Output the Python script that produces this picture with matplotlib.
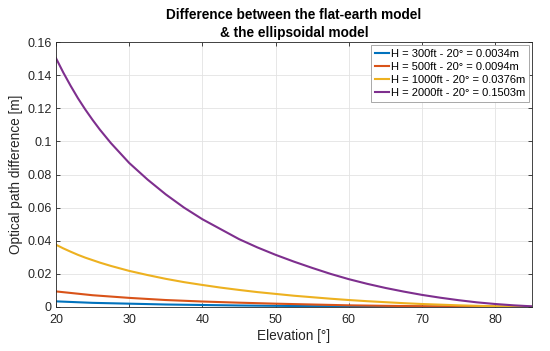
import matplotlib
matplotlib.use("Agg")
import matplotlib.pyplot as plt
from matplotlib.ticker import FuncFormatter

plt.rcParams['font.family'] = ['Liberation Sans', 'DejaVu Sans']

# Elevation angles [deg]
elev_fine = [20, 21, 22, 23, 24, 25, 26, 27.5, 30, 32.5, 35, 37.5, 40, 42.5, 45, 47.5, 50, 52.5,
             55, 57.5, 60, 62.5, 65, 67.5, 70, 72.5, 75, 77.5, 80, 82.5, 85]
elev_coarse = [20, 25, 30, 35, 40, 45, 50, 55, 60, 65, 70, 75, 80, 85]

# Optical path difference [m]
h300 = [0.0034, 0.0025, 0.0020, 0.0015, 0.0012, 0.0009, 0.0007, 0.0005, 0.0004,
        0.00026, 0.00016, 0.00009, 0.00004, 0.00001]
h500 = [0.0094, 0.0071, 0.0055, 0.0042, 0.0033, 0.0026, 0.0020, 0.0015, 0.0010,
        0.0007, 0.00046, 0.00026, 0.00011, 0.00003]
h1000 = [0.0376, 0.0354, 0.0334, 0.0315, 0.0298, 0.0283, 0.0268, 0.0248, 0.0218,
         0.0193, 0.0170, 0.0150, 0.0133, 0.0117, 0.0103, 0.0090, 0.0079, 0.0068,
         0.0059, 0.0050, 0.0042, 0.0035, 0.0029, 0.0023, 0.0018, 0.0014, 0.0010,
         0.0007, 0.00045, 0.00025, 0.0001]
h2000 = [0.1503, 0.1416, 0.1336, 0.1261, 0.1193, 0.1130, 0.1071, 0.0990, 0.0870,
         0.0770, 0.0680, 0.0600, 0.0530, 0.0470, 0.0410, 0.0360, 0.0315, 0.0274,
         0.0236, 0.0200, 0.0168, 0.0140, 0.0115, 0.0093, 0.0073, 0.0056, 0.0041,
         0.0028, 0.0018, 0.0010, 0.0004]

labels = ["H = 300ft - 20° = 0.0034m", "H = 500ft - 20° = 0.0094m",
          "H = 1000ft - 20° = 0.0376m", "H = 2000ft - 20° = 0.1503m"]
colors = ["#0072BD", "#D95319", "#EDB120", "#7E2F8E"]

xticks = [20, 30, 40, 50, 60, 70, 80]
yticks = [0, 0.02, 0.04, 0.06, 0.08, 0.1, 0.12, 0.14, 0.16]

fig = plt.figure(figsize=(5.5, 3.51), dpi=100)
ax = fig.add_axes([0.1018, 0.1254, 0.8652, 0.7546])

series = [(elev_coarse, h300), (elev_coarse, h500), (elev_fine, h1000), (elev_fine, h2000)]
for (x, y), lab, c in zip(series, labels, colors):
    ax.plot(x, y, color=c, lw=1.5, label=lab, solid_joinstyle="round")

ax.set_xlim(20, 85)
ax.set_ylim(0, 0.16)
ax.set_xticks(xticks)
ax.set_yticks(yticks)
ax.yaxis.set_major_formatter(FuncFormatter(lambda v, p: "%g" % v))
ax.grid(True, color="#e3e3e3", lw=0.6)
ax.set_axisbelow(True)
ax.tick_params(direction="in", length=3, width=0.6, labelsize=9, colors="#262626",
               top=True, right=True)
ax.tick_params(axis="x", pad=5)
ax.tick_params(axis="y", pad=3)
for s in ax.spines.values():
    s.set_color("#262626")
    s.set_linewidth(0.6)

ax.set_xlabel("Elevation [°]", fontsize=9.8, color="#262626", labelpad=2)
ax.set_ylabel("Optical path difference [m]", fontsize=9.8, color="#262626", labelpad=3)
ax.set_title("Difference between the flat-earth model\n& the ellipsoidal model",
             fontsize=9.8, fontweight="bold", color="#000000", pad=3.5, linespacing=1.4)

leg = ax.legend(loc="upper right", fontsize=8, frameon=True, fancybox=False,
                handlelength=1.2, handletextpad=0.2, borderpad=0.35, labelspacing=0.28,
                borderaxespad=0.25, framealpha=1)
leg.get_frame().set_edgecolor("#9a9a9a")
leg.get_frame().set_linewidth(0.6)

fig.savefig("out.png", dpi=100)
